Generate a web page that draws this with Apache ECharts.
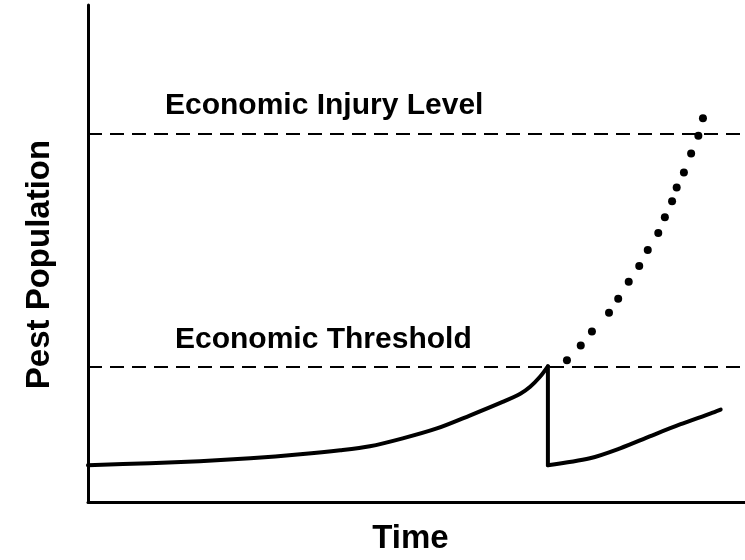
<!DOCTYPE html>
<html lang="en">
<head>
    <meta charset="UTF-8">
    <title>Economic Threshold</title>
    <script src="https://cdn.jsdelivr.net/npm/echarts@6/dist/echarts.min.js"></script>
    <style>
        html, body { margin: 0; padding: 0; background: #fff; }
        #chart { width: 745px; height: 560px; }
    </style>
</head>
<body>
<div id="chart"></div>
<script>
    // pest population over time (arbitrary units, 0-100)
    // control is applied at t = 70, where the population hits the threshold
    const growthTime = [0, 9.4, 17.0, 24.7, 32.3, 38.4, 42.9, 47.9, 53.1, 58.1, 63.2, 65.8, 67.3, 68.8, 70.0,
                        70.0, 76.4, 81.0, 85.5, 90.1, 94.7, 96.3];
    const growthPop  = [7.4, 7.8, 8.2, 8.8, 9.6, 10.4, 11.2, 12.8, 14.8, 17.4, 20.2, 21.8, 23.2, 25.2, 27.3,
                        7.4, 8.8, 10.8, 13.2, 15.6, 17.8, 18.6];
    const controlIndex = 14; // peak point, the next one is after spraying

    // what happens without control (dotted)
    const uncheckedTime = [72.9, 75.0, 76.7, 79.3, 80.7, 82.3, 83.9, 85.2, 86.8, 87.8, 88.9, 89.6, 90.7, 91.8, 92.9, 93.6];
    const uncheckedPop  = [28.5, 31.5, 34.3, 38.1, 40.9, 44.3, 47.5, 50.7, 54.1, 57.3, 60.5, 63.3, 66.3, 70.1, 73.7, 77.2];

    const injuryLevel = 74.1;
    const threshold = 27.3;

    const font = '"Liberation Sans", Arial, Helvetica, sans-serif';

    const chart = echarts.init(document.getElementById('chart'));

    const solid = growthTime.map((t, i) => [t, growthPop[i]]);
    const before = solid.slice(0, controlIndex + 1);
    const drop = solid.slice(controlIndex, controlIndex + 2);
    const after = solid.slice(controlIndex + 1);
    const dots = uncheckedTime.map((t, i) => [t, uncheckedPop[i]]);

    const dashStyle = {color: '#000', width: 2, type: [14, 8]};
    const solidStyle = {color: '#000', width: 4, cap: 'round', join: 'round'};

    chart.setOption({
        animation: false,
        grid: {left: 88, right: 0, top: 5, bottom: 56},
        xAxis: {
            type: 'value', min: 0, max: 100,
            name: 'Time', nameLocation: 'middle', nameGap: 20,
            nameTextStyle: {fontFamily: font, fontWeight: 'bold', fontSize: 33, color: '#000', padding: [0, 12, 0, 0]},
            axisLine: {lineStyle: {color: '#000', width: 3}},
            axisTick: {show: false}, axisLabel: {show: false}, splitLine: {show: false}
        },
        yAxis: {
            type: 'value', min: 0, max: 100,
            name: 'Pest Population', nameLocation: 'middle', nameGap: 32, nameRotate: 90,
            nameTextStyle: {fontFamily: font, fontWeight: 'bold', fontSize: 33, color: '#000', padding: [0, 22, 0, 0]},
            axisLine: {show: true, onZero: false, lineStyle: {color: '#000', width: 3}},
            axisTick: {show: false}, axisLabel: {show: false}, splitLine: {show: false}
        },
        series: [
            {
                type: 'line',
                data: before,
                showSymbol: false,
                smooth: 0.3,
                lineStyle: solidStyle,
                markLine: {
                    silent: true,
                    symbol: 'none',
                    lineStyle: dashStyle,
                    label: {
                        position: 'insideStartTop',
                        fontFamily: font, fontWeight: 'bold', fontSize: 30, color: '#000',
                        formatter: '{b}'
                    },
                    data: [
                        {name: 'Economic Injury Level', yAxis: injuryLevel, label: {distance: [77, 13]}},
                        {name: 'Economic Threshold', yAxis: threshold, label: {distance: [87, 12]}}
                    ]
                }
            },
            {
                type: 'line',
                data: drop,
                showSymbol: false,
                lineStyle: solidStyle
            },
            {
                type: 'line',
                data: after,
                showSymbol: false,
                smooth: 0.3,
                lineStyle: solidStyle
            },
            {
                type: 'scatter',
                data: dots,
                symbol: 'circle',
                symbolSize: 8,
                itemStyle: {color: '#000', opacity: 1}
            }
        ]
    });
</script>
</body>
</html>
